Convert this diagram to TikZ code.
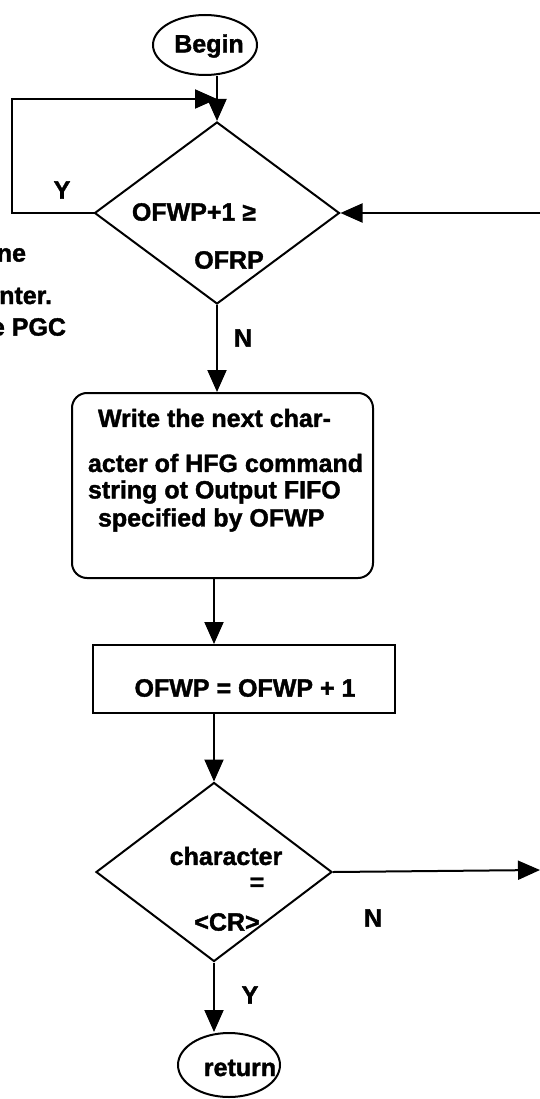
\documentclass[tikz,border=0pt]{standalone}
\usepackage{fontspec}
\setmainfont{Liberation Sans}[BoldFeatures={FakeBold=1.5}]
\usetikzlibrary{shapes.geometric,arrows.meta}
\begin{document}
\begin{tikzpicture}[x=1pt,y=-1pt,
  line width=2pt,
  every node/.style={font=\fontsize{25}{28}\selectfont\bfseries, inner sep=0pt},
  arr/.style={-{Triangle[length=22pt,width=19pt]}},
  ell/.style={draw, ellipse, minimum width=104pt, minimum height=60pt},
  dec/.style={draw, diamond, inner sep=0pt},
  txt/.style={},
]
\useasboundingbox (0,0) rectangle (540,1099);
% shapes
\node[ell] (begin) at (205,45) {};
\node[txt] (tbegin) at (209,46) {Begin};
\node[dec, minimum width=245pt, minimum height=182pt] (d1) at (217,213) {};
\node[txt] (t1a) at (194,212) {OFWP+1 ≥};
\node[txt] (t1b) at (229,260) {OFRP};
\node[draw, rounded corners=15pt, minimum width=301pt, minimum height=185pt] (box1) at (222.5,485.5) {};
\node[txt, anchor=west] (b1l1) at (97,418) {Write the next char-};
\node[txt, anchor=west] (b1l2) at (87,463) {acter of HFG command};
\node[txt, anchor=west] (b1l3) at (87,492) {string ot Output FIFO};
\node[txt, anchor=west] (b1l4) at (97,520) {specified by OFWP};
\node[draw, minimum width=302pt, minimum height=68pt] (box2) at (244,679) {};
\node[txt] (t2) at (245,688) {OFWP = OFWP + 1};
\node[dec, minimum width=236pt, minimum height=179pt] (d2) at (214,872) {};
\node[txt] (t3a) at (226,856) {character};
\node[txt] (t3b) at (257,884) {=};
\node[txt] (t3c) at (227,922) {<CR>};
\node[ell, minimum width=102pt, minimum height=64pt] (ret) at (229,1065) {};
\node[txt] (tret) at (240,1068) {return};
% labels
\node[txt] (ly1) at (62,190) {Y};
\node[txt] (ln1) at (243,338) {N};
\node[txt] (ln2) at (373,918) {N};
\node[txt] (ly2) at (250,995) {Y};
\node[txt, anchor=east] (c1) at (27,255) {ne};
\node[txt, anchor=east] (c2) at (53,296) {nter.};
\node[txt, anchor=east] (c3) at (67,327) {e PGC};
% coordinates
\coordinate (j) at (217,99);
\coordinate (lc) at (12,213);
\coordinate (rin) at (540,213);
\coordinate (rout) at (540,870);
% connectors
\draw[arr] (d1.north |- begin.south) -- (d1.north);
\draw[arr] (d1.west) -- (lc) |- (j);
\draw[arr] (rin) -- (d1.east);
\draw[arr] (d1.south) -- (d1.south |- box1.north);
\draw[arr] (box1.south -| 214,0) -- (box2.north -| 214,0);
\draw[arr] (box2.south -| d2.north) -- (d2.north);
\draw[arr] (d2.east) -- (rout);
\draw[arr] (d2.south) -- (d2.south |- ret.north);
\end{tikzpicture}
\end{document}
